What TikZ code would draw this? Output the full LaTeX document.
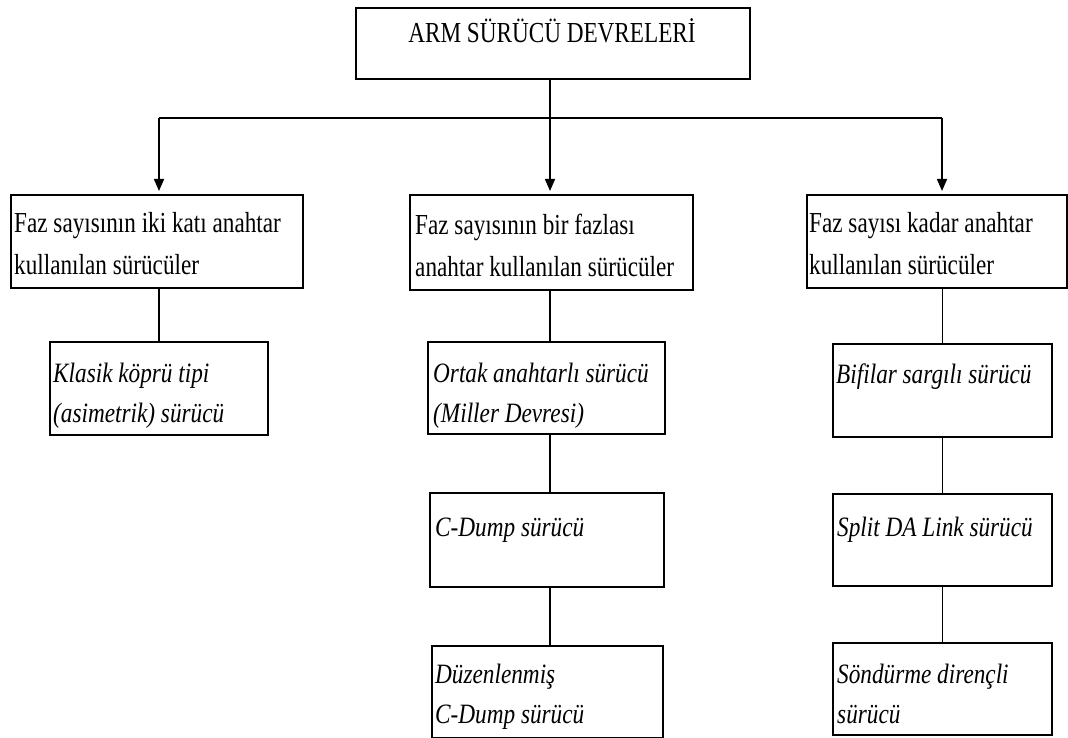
\documentclass[tikz,border=0pt]{standalone}
\usepackage{fontspec}
\setmainfont{Liberation Serif}[FakeStretch=0.80]
\newfontfamily\itfont{Liberation Serif Italic}[FakeStretch=0.83]
\usetikzlibrary{arrows.meta}
\begin{document}
\begin{tikzpicture}[x=1pt,y=-1pt,
  box/.style={draw,line width=1.6pt,inner sep=0pt,anchor=north west},
  lab/.style={anchor=base west,inner sep=0pt,align=left,font=\fontsize{29}{42}\selectfont},
  ilab/.style={anchor=base west,inner sep=0pt,align=left,font=\itfont\fontsize{28}{40}\selectfont},
  conn/.style={line width=1.6pt},
  arr/.style={line width=1.6pt,-{Triangle[length=12pt,width=10pt]},shorten >=3pt}]
\useasboundingbox (0,0) rectangle (1068,738);
% boxes
\node[box,minimum width=394pt,minimum height=71pt] (top) at (355,7) {};
\node[box,minimum width=292pt,minimum height=93pt] (l1) at (10,194) {};
\node[box,minimum width=283pt,minimum height=95pt] (m1) at (409,194) {};
\node[box,minimum width=260pt,minimum height=93pt] (r1) at (806,194) {};
\node[box,minimum width=218pt,minimum height=93pt] (l2) at (49,341) {};
\node[box,minimum width=237pt,minimum height=92pt] (m2) at (427,341) {};
\node[box,minimum width=219pt,minimum height=93pt] (r2) at (832,343) {};
\node[box,minimum width=234pt,minimum height=94pt] (m3) at (429,492) {};
\node[box,minimum width=219pt,minimum height=92pt] (r3) at (832,493) {};
\node[box,minimum width=231pt,minimum height=92pt] (m4) at (431,645) {};
\node[box,minimum width=219pt,minimum height=92pt] (r4) at (832,642) {};
% texts (base = baseline of last line)
\node[anchor=base,inner sep=0pt,font=\fontsize{29}{30}\selectfont] (ttop) at (552,43) {ARM SÜRÜCÜ DEVRELERİ};
\node[lab] (tl1) at (14,274) {Faz sayısının iki katı anahtar\\kullanılan sürücüler};
\node[lab] (tm1) at (415,276) {Faz sayısının bir fazlası\\anahtar kullanılan sürücüler};
\node[lab] (tr1) at (809,274) {Faz sayısı kadar anahtar\\kullanılan sürücüler};
\node[ilab] (tl2) at (53,422) {Klasik köprü tipi\\(asimetrik) sürücü};
\node[ilab] (tm2) at (433,422) {Ortak anahtarlı sürücü\\(Miller Devresi)};
\node[ilab] (tr2) at (836,383) {Bifilar sargılı sürücü};
\node[ilab] (tm3) at (435,536) {C-Dump sürücü};
\node[ilab] (tr3) at (837,536) {Split DA Link sürücü};
\node[ilab] (tm4) at (435,723) {Düzenlenmiş\\C-Dump sürücü};
\node[ilab] (tr4) at (837,723) {Söndürme dirençli\\sürücü};
% connectors
\coordinate (bl) at (159,118);
\coordinate (bm) at (550,118);
\coordinate (br) at (942,118);
\draw[conn] (top.south -| bm) -- (bm);
\draw[conn] (bl) -- (br);
\draw[arr] (bl) -- (bl |- l1.north);
\draw[arr] (bm) -- (bm |- m1.north);
\draw[arr] (br) -- (br |- r1.north);
\draw[conn] (l1.south -| l2.north) -- (l2.north);
\draw[conn] (m1.south -| bm) -- (m2.north -| bm);
\draw[conn] (m2.south -| bm) -- (m3.north -| bm);
\draw[conn] (m3.south -| bm) -- (m4.north -| bm);
\draw[conn] (r1.south -| r2.north) -- (r2.north);
\draw[conn] (r2.south) -- (r3.north);
\draw[conn] (r3.south) -- (r4.north);
\end{tikzpicture}
\end{document}
